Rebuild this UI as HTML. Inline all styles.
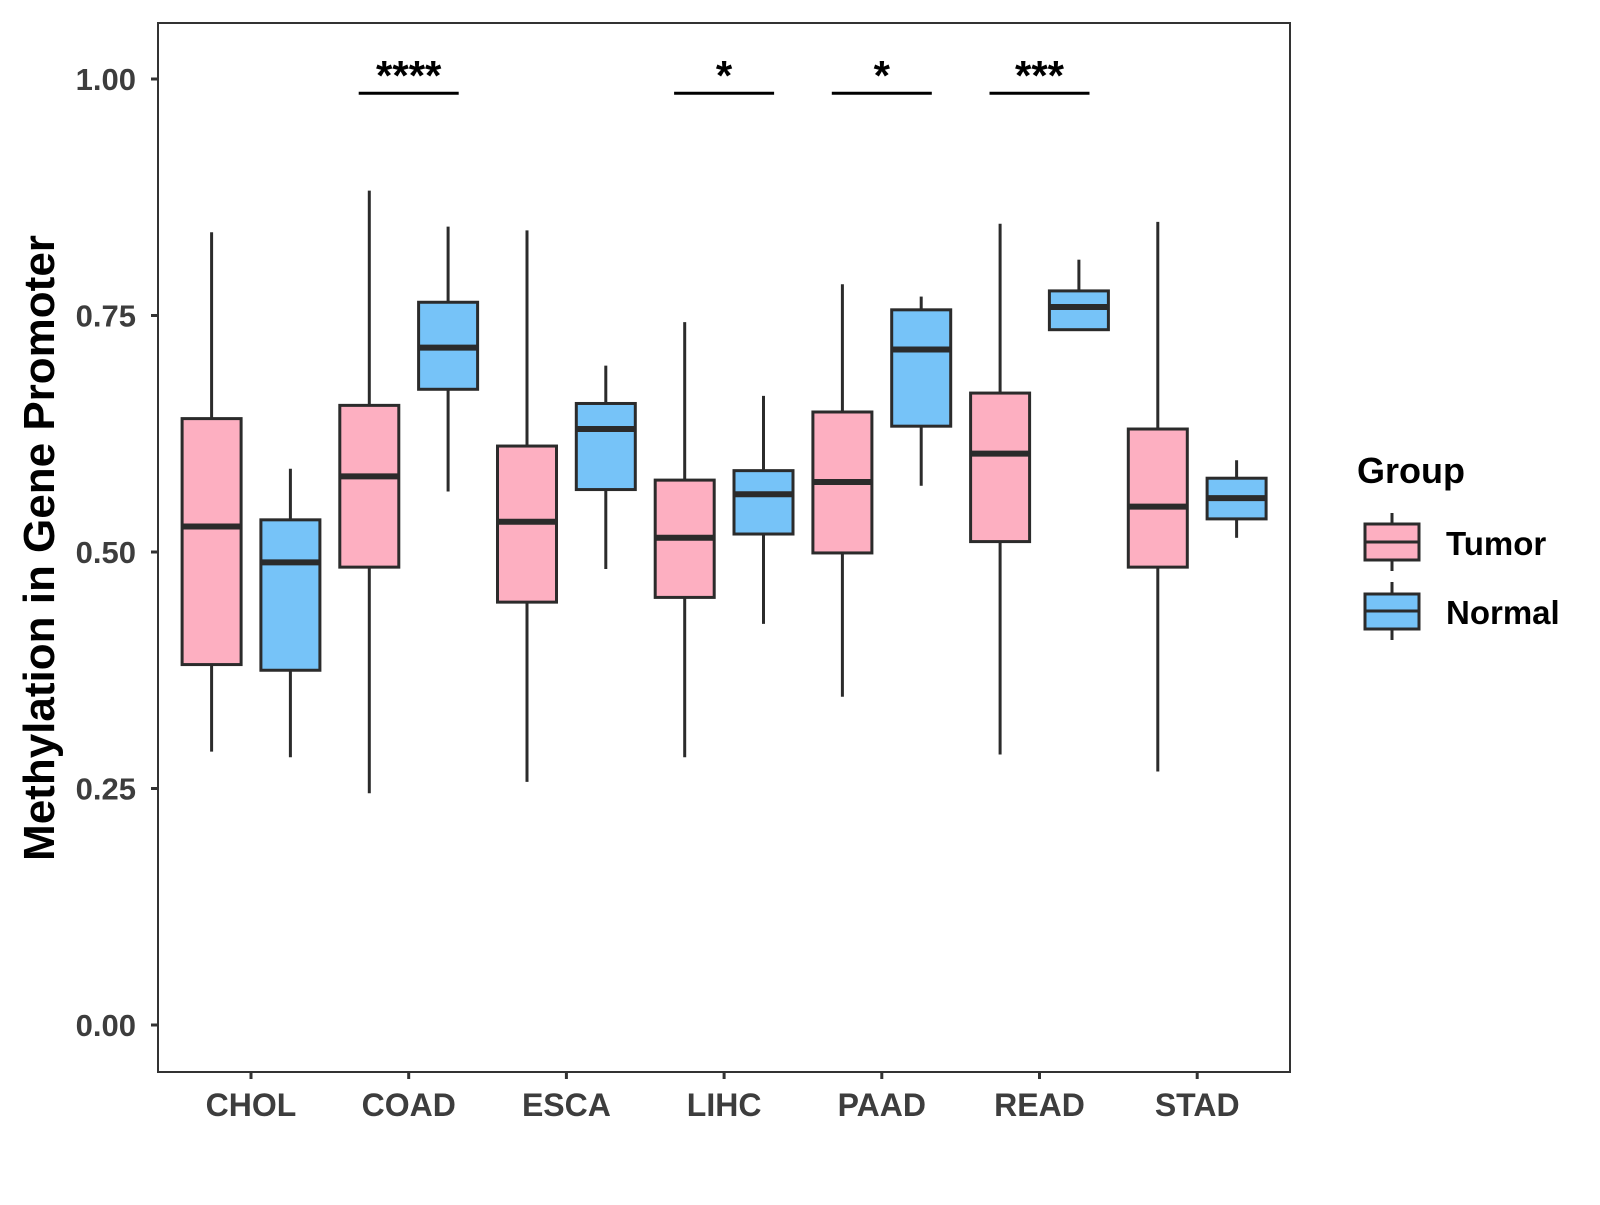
<!DOCTYPE html>
<html><head><meta charset="utf-8"><style>
body{margin:0;background:#fff}
svg text{font-family:"Liberation Sans",Arial,sans-serif;font-weight:bold}
</style></head><body>
<svg id="chart" width="1600" height="1200" xmlns="http://www.w3.org/2000/svg">
<rect x="0" y="0" width="1600" height="1200" fill="#fff"/>
<g id="plot"></g>
<text transform="translate(54,548) rotate(-90)" text-anchor="middle" font-size="44" fill="#000">Methylation in Gene Promoter</text>
<g>
<text x="1357" y="483" font-size="36" fill="#000">Group</text>
<g>
<line x1="1392" y1="513" x2="1392" y2="571" stroke="#2b2b2b" stroke-width="3"/>
<rect x="1365" y="524" width="54" height="36" fill="#FDAFC1" stroke="#2b2b2b" stroke-width="3"/>
<line x1="1365" y1="542" x2="1419" y2="542" stroke="#2b2b2b" stroke-width="3"/>
<text x="1446" y="555" font-size="33" fill="#000">Tumor</text></g>
<g>
<line x1="1392" y1="582" x2="1392" y2="640" stroke="#2b2b2b" stroke-width="3"/>
<rect x="1365" y="594" width="54" height="35" fill="#76C3F8" stroke="#2b2b2b" stroke-width="3"/>
<line x1="1365" y1="611" x2="1419" y2="611" stroke="#2b2b2b" stroke-width="3"/>
<text x="1446" y="624" font-size="33" fill="#000">Normal</text></g>
</g>
</svg>
<script>
const categories=["CHOL","COAD","ESCA","LIHC","PAAD","READ","STAD"];
// [lowWhisker, q1, median, q3, highWhisker]
const tumorStats=[[0.289,0.381,0.527,0.641,0.838],[0.245,0.484,0.580,0.655,0.882],[0.257,0.447,0.532,0.612,0.840],[0.283,0.452,0.515,0.576,0.743],[0.347,0.499,0.574,0.648,0.783],[0.286,0.511,0.604,0.668,0.847],[0.268,0.484,0.548,0.630,0.849]];
const normalStats=[[0.283,0.375,0.489,0.534,0.588],[0.564,0.672,0.716,0.764,0.844],[0.482,0.566,0.630,0.657,0.697],[0.424,0.519,0.561,0.586,0.665],[0.570,0.633,0.714,0.756,0.770],[0.735,0.735,0.759,0.776,0.809],[0.515,0.535,0.557,0.578,0.597]];
const yTicks=[0,0.25,0.5,0.75,1.0];
const yTickLabels=["0.00","0.25","0.50","0.75","1.00"];
const sigCategories=["COAD","LIHC","PAAD","READ"];
const sigLabels=["****","*","*","***"];
const sigY=[0.985,0.985,0.985,0.985];

const L=158,R=1290,T=23,B=1072;
const y=v=>1025-946*v;
const x=i=>251+i*157.7;
const NS="http://www.w3.org/2000/svg";
const g=document.getElementById('plot');
function mk(tag,attrs,parent){const e=document.createElementNS(NS,tag);for(const k in attrs)e.setAttribute(k,attrs[k]);(parent||g).appendChild(e);return e;}
const frame=mk('rect',{x:L,y:T,width:R-L,height:B-T,fill:'none',stroke:'#333',"stroke-width":2});


yTicks.forEach((v,i)=>{
  const t=mk('line',{x1:L-7,x2:L,y1:y(v),y2:y(v),stroke:'#333',"stroke-width":3});
  
  
  const tx=mk('text',{x:L-22,y:y(v)+11,"text-anchor":"end","font-size":31,fill:'#3d3d3d'});
  tx.textContent=yTickLabels[i];
  
  
});
categories.forEach((c,i)=>{
  const t=mk('line',{x1:x(i),x2:x(i),y1:B,y2:B+7,stroke:'#333',"stroke-width":3});
  
  
  const tx=mk('text',{x:x(i),y:B+44,"text-anchor":"middle","font-size":32,fill:'#3d3d3d'});
  tx.textContent=c;
  
  
});
function box(cx,s,fill,name){
  const gg=mk('g',{});
  
  
  const w=59;
  mk('line',{x1:cx,x2:cx,y1:y(s[4]),y2:y(s[3]),stroke:'#2b2b2b',"stroke-width":3},gg);
  mk('line',{x1:cx,x2:cx,y1:y(s[1]),y2:y(s[0]),stroke:'#2b2b2b',"stroke-width":3},gg);
  mk('rect',{x:cx-w/2,y:y(s[3]),width:w,height:Math.max(0,y(s[1])-y(s[3])),fill:fill,stroke:'#2b2b2b',"stroke-width":3},gg);
  mk('line',{x1:cx-w/2,x2:cx+w/2,y1:y(s[2]),y2:y(s[2]),stroke:'#2b2b2b',"stroke-width":6},gg);
}
categories.forEach((c,i)=>{
  box(x(i)-39.4,tumorStats[i],'#FDAFC1','box-'+c.toLowerCase()+'-tumor');
  box(x(i)+39.4,normalStats[i],'#76C3F8','box-'+c.toLowerCase()+'-normal');
});
sigCategories.forEach((c,k)=>{
  const i=categories.indexOf(c);
  const ln=mk('line',{x1:x(i)-50,x2:x(i)+50,y1:y(sigY[k]),y2:y(sigY[k]),stroke:'#000',"stroke-width":3});
  
  
  const tx=mk('text',{x:x(i),y:y(sigY[k])-3,"text-anchor":"middle","font-size":42,fill:'#000'});
  tx.textContent=sigLabels[k];
  
  
});
</script>
</body></html>
